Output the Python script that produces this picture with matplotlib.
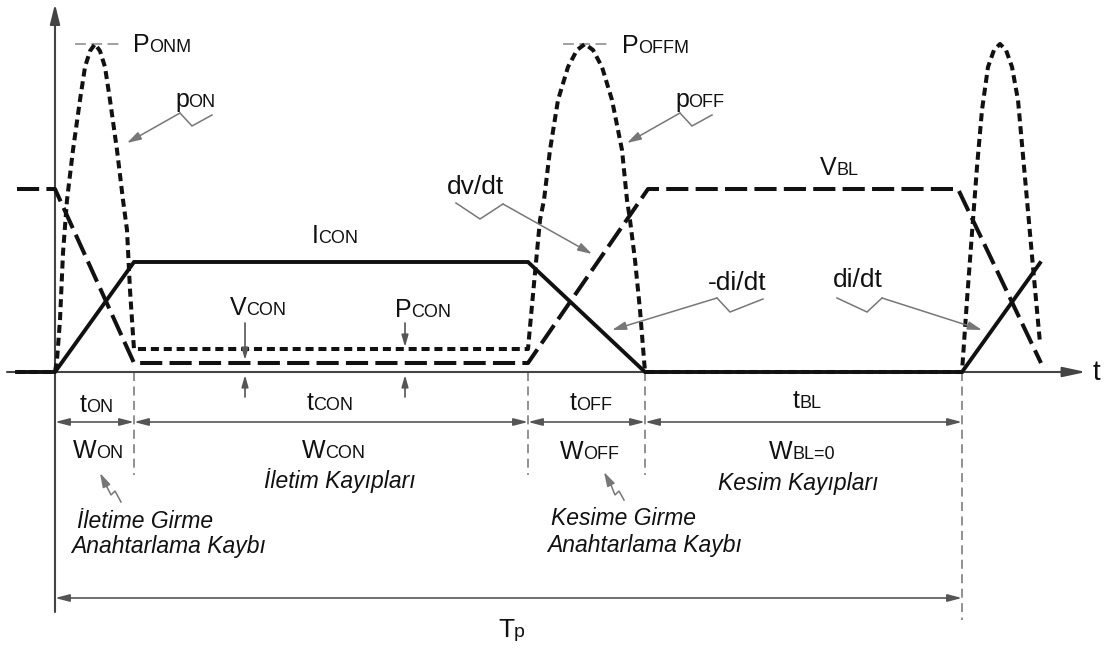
import matplotlib
matplotlib.use("Agg")
import matplotlib.pyplot as plt

plt.rcParams['font.family'] = ['Liberation Sans', 'DejaVu Sans']

# switching instants on the time axis
t_sw = [55, 134, 528, 645, 962]

# collector current i_C (solid)
cur_t = [17, 55, 134, 528, 645, 962, 1040]
cur_a = [0, 0, 110, 110, 0, 0, 109]

# collector-emitter voltage v_CE (long dashes)
volt_t = [17, 55, 134, 528, 648, 958, 1041]
volt_a = [183, 183, 9, 9, 183, 183, 9]

# instantaneous power p (short dashes): turn-on pulse, conduction, turn-off pulse, blocking, next turn-on
pow_t = [17, 55, 57, 60, 63, 67, 73, 80, 85, 90, 95, 100, 105, 110, 117, 123, 127, 130, 133, 134,
         528, 531, 535, 540, 544, 550, 558, 568, 577, 585, 593, 602, 612, 622, 627, 630, 635, 640, 645,
         962, 967, 972, 977, 982, 988, 994, 1000, 1006, 1012, 1018, 1027, 1033, 1040]
pow_a = [0, 0, 12, 52, 119, 172, 222, 272, 305, 321, 328, 321, 305, 272, 222, 172, 142, 82, 37, 23,
         23, 56, 99, 152, 172, 222, 272, 305, 322, 328, 322, 305, 272, 222, 172, 152, 112, 62, 0,
         0, 72, 139, 205, 262, 305, 322, 328, 322, 305, 272, 172, 105, 29]

ink = '#111111'
grey = '#555555'
light = '#777777'

fig = plt.figure(figsize=(11.15, 6.5), dpi=100)
ax = fig.add_axes([0, 0, 1, 1])
ax.set_xlim(0, 1115)
ax.set_ylim(-278, 372)
ax.axis('off')
renderer = fig.canvas.get_renderer()


def arrow(tail, tip, style='-|>', hl=0.85, hw=0.25, color=grey, lw=1.2):
    ax.annotate('', xy=tip, xytext=tail,
                arrowprops=dict(arrowstyle=f'{style},head_length={hl},head_width={hw}',
                                color=color, lw=lw, shrinkA=0, shrinkB=0, mutation_scale=10))


def leader(pts):
    xs, ys = zip(*pts)
    ax.plot(xs[:-1], ys[:-1], color=light, lw=1.1, solid_joinstyle='miter')
    arrow(pts[-2], pts[-1], color=light, lw=1.1)


def sublabel(x, y, main, sub='', size=18, sub_size=13):
    txt = ax.text(x, y, main, fontsize=size, color=ink)
    if sub:
        bb = txt.get_window_extent(renderer)
        x1 = ax.transData.inverted().transform((bb.x1, bb.y0))[0]
        ax.text(x1 - 0.5, y, sub, fontsize=sub_size, color=ink)


def note(x, y, s):
    ax.text(x, y, s, fontsize=16.5, style='italic', color=ink)


# axes
arrow((55, -240), (55, 368), hl=1.2, hw=0.3, color='#444444', lw=1.5)
arrow((7, 0), (1086, 0), hl=1.4, hw=0.3, color='#444444', lw=1.5)
ax.text(1093, -8, 't', fontsize=20, color=ink)

# waveforms
ax.plot(cur_t, cur_a, color=ink, lw=2.8, solid_joinstyle='miter', zorder=3)
ax.plot(volt_t, volt_a, color=ink, lw=2.9, linestyle=(0, (5.5, 1.8)), zorder=3)
ax.plot(pow_t, pow_a, color=ink, lw=2.9, linestyle=(0, (2.0, 1.2)), zorder=3)

# peak markers
ax.plot([75, 120], [328, 328], color='#999999', lw=1.3, linestyle=(0, (6, 3)))
ax.plot([563, 610], [328, 328], color='#999999', lw=1.3, linestyle=(0, (6, 3)))

# boundary lines below the t axis
for x in t_sw[1:4]:
    ax.plot([x, x], [0, -103], color='#888888', lw=1.3, linestyle=(0, (5, 3)))
ax.plot([t_sw[4]] * 2, [0, -248], color='#888888', lw=1.3, linestyle=(0, (5, 3)))

# interval dimension lines
for a, b in zip(t_sw[:-1], t_sw[1:]):
    arrow((a, -50), (b, -50), style='<|-|>', hl=0.85, hw=0.22)
arrow((t_sw[0], -226), (t_sw[4], -226), style='<|-|>', hl=0.85, hw=0.22)

# on-state level indicators
for x, top in [(245, 12), (405, 25)]:
    arrow((x, 49), (x, top), hl=0.7, hw=0.2)
    arrow((x, -25), (x, -3), hl=0.7, hw=0.2)

# labels on the waveforms
sublabel(133, 320, 'P', 'ONM')
sublabel(175, 265, 'p', 'ON')
sublabel(622, 319, 'P', 'OFFM')
sublabel(675, 265, 'p', 'OFF')
sublabel(820, 197, 'V', 'BL')
sublabel(312, 129, 'I', 'CON')
sublabel(230, 57, 'V', 'CON')
sublabel(395, 55, 'P', 'CON')
ax.text(447, 178, 'dv/dt', fontsize=19, color=ink)
ax.text(708, 82, '-di/dt', fontsize=19, color=ink)
ax.text(833, 85, 'di/dt', fontsize=19, color=ink)

leader([(212, 257), (192, 246), (180, 259), (127, 229)])
leader([(712, 257), (692, 246), (680, 259), (627, 229)])
leader([(456, 169), (480, 153), (503, 168), (592, 118)])
leader([(763, 73), (730, 60), (717, 74), (612, 42)])
leader([(837, 74), (867, 60), (882, 74), (982, 42)])

# interval labels
sublabel(80, -40, 't', 'ON')
sublabel(307, -38, 't', 'CON')
sublabel(570, -38, 't', 'OFF')
sublabel(793, -36, 't', 'BL')
sublabel(73, -86, 'W', 'ON')
sublabel(302, -86, 'W', 'CON')
sublabel(560, -87, 'W', 'OFF')
sublabel(769, -87, 'W', 'BL=0')
sublabel(498, -265, 'T', 'p', size=19, sub_size=14)

note(264, -116, 'İletim Kayıpları')
note(718, -118, 'Kesim Kayıpları')
note(77, -156, 'İletime Girme')
note(71, -181, 'Anahtarlama Kaybı')
note(551, -153, 'Kesime Girme')
note(547, -180, 'Anahtarlama Kaybı')

leader([(121, -130), (115, -119), (111, -123), (107, -115), (100, -101)])
leader([(624, -128), (619, -119), (615, -123), (611, -113), (604, -100)])

fig.savefig('out.png', dpi=100, facecolor='white')
